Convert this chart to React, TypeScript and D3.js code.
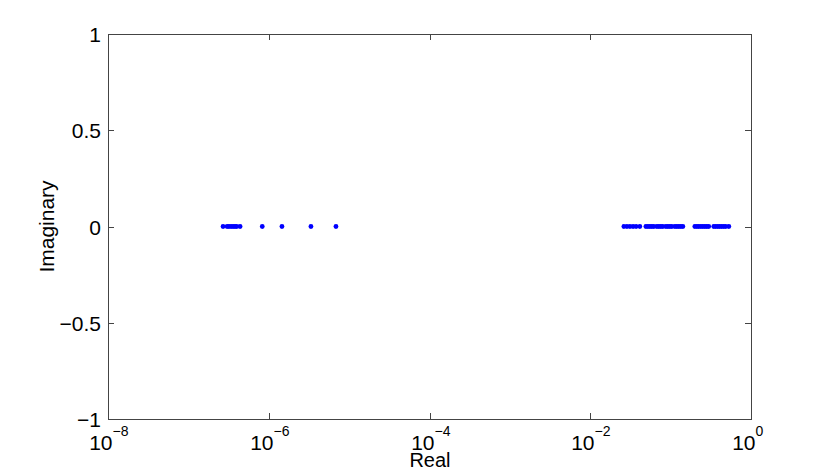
import React from "react";
import * as d3 from "d3";

const realParts: number[] = [
  2.7e-7, 3.03e-7, 3.2e-7, 3.4e-7, 3.6e-7, 3.8e-7, 4.0e-7, 4.4e-7,
  8.3e-7, 1.46e-6, 3.35e-6, 6.86e-6,
  0.0262, 0.0286, 0.0312, 0.0341, 0.0372, 0.0414,
  0.0492, 0.0521, 0.0552, 0.0584, 0.0619, 0.0674, 0.0714, 0.0756, 0.0801,
  0.0873, 0.0924, 0.0979, 0.1037, 0.113, 0.1196, 0.1266, 0.1341, 0.142,
  0.2, 0.212, 0.224, 0.238, 0.252, 0.267, 0.282, 0.298,
  0.344, 0.364, 0.386, 0.408, 0.432, 0.458, 0.485, 0.53,
];
const imagParts: number[] = realParts.map(() => 0);

const xTickExps: number[] = [-8, -6, -4, -2, 0];
const yTicks: number[] = [-1, -0.5, 0, 0.5, 1];
const yTickLabels: string[] = ["\u22121", "\u22120.5", "0", "0.5", "1"];

const W = 830;
const H = 472;
const m = { left: 108, right: 751, top: 34, bottom: 419 };

export default function App() {
  const x = d3.scaleLog().domain([1e-8, 1]).range([m.left, m.right]);
  const y = d3.scaleLinear().domain([-1, 1]).range([m.bottom, m.top]);
  const axisColor = "#444";
  const font = "Liberation Sans, Arial, sans-serif";
  const tickLen = 6;
  return (
    <svg
      width={W}
      height={H}
      style={{ position: "absolute", left: 0, top: 0, background: "#fff" }}
      fontFamily={font}
    >
      <rect x={0} y={0} width={W} height={H} fill="#fff" />
      {realParts.map((r, i) => (
        <circle key={i} cx={x(r)} cy={y(imagParts[i])} r={2.4} fill="#0000ff" />
      ))}
      <rect
        x={m.left + 0.5}
        y={m.top + 0.5}
        width={m.right - m.left}
        height={m.bottom - m.top}
        fill="none"
        stroke={axisColor}
        strokeWidth={1}
      />
      {xTickExps.map((e) => {
        const px = Math.round(x(Math.pow(10, e))) + 0.5;
        return (
          <g key={e}>
            <line x1={px} x2={px} y1={m.bottom} y2={m.bottom - tickLen} stroke={axisColor} />
            <line x1={px} x2={px} y1={m.top} y2={m.top + tickLen} stroke={axisColor} />
            <text x={px + 4} y={450} fontSize={21} textAnchor="end" fill="#000">
              10
            </text>
            <text x={px + 4} y={436} fontSize={14} textAnchor="start" fill="#000">
              {e < 0 ? "\u2212" + Math.abs(e) : String(e)}
            </text>
          </g>
        );
      })}
      {yTicks.map((t, i) => {
        const py = Math.round(y(t)) + 0.5;
        return (
          <g key={t}>
            <line x1={m.left} x2={m.left + tickLen} y1={py} y2={py} stroke={axisColor} />
            <line x1={m.right} x2={m.right - tickLen} y1={py} y2={py} stroke={axisColor} />
            <text x={101} y={py} dy="0.36em" fontSize={21} textAnchor="end" fill="#000">
              {yTickLabels[i]}
            </text>
          </g>
        );
      })}
      <text x={430} y={467} fontSize={20} textAnchor="middle" fill="#000">
        Real
      </text>
      <text
        transform={`translate(54, ${(m.top + m.bottom) / 2}) rotate(-90)`}
        fontSize={21}
        textAnchor="middle"
        fill="#000"
      >
        Imaginary
      </text>
    </svg>
  );
}
